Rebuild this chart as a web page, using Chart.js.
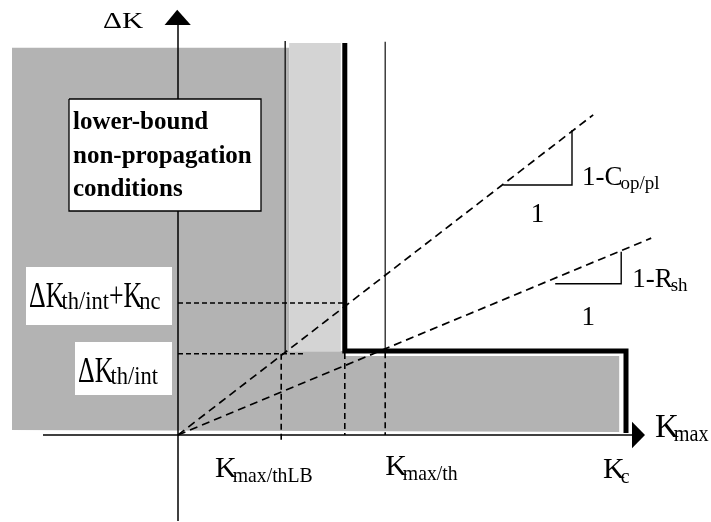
<!DOCTYPE html>
<html>
<head>
<meta charset="utf-8">
<script src="https://cdn.jsdelivr.net/npm/chart.js@4.4.1/dist/chart.umd.min.js"></script>
<style>
  html, body { margin: 0; padding: 0; background: #fff; }
  canvas { display: block; }
</style>
</head>
<body>
<canvas id="c" width="711" height="522"></canvas>
<script>
// ---- threshold values (arbitrary K units) ----
// marks on the K_max axis
const kMaxNames  = ['K_max/thLB', 'K_max/th', 'K_c'];
const kMaxValues = [2.58, 5.18, 11.2];
// marks on the ΔK axis
const deltaKNames  = ['ΔK_th/int', 'ΔK_th/int+K_nc'];
const deltaKValues = [2.03, 3.3];
// intrinsic threshold envelope (thick L): vertical branch K, horizontal level ΔK
const envelopeK = 4.17;
const envelopeDeltaK = 2.1;
// lower-bound non-propagation region
const lowerBoundK = 2.68;
const regionLeftK = -4.15;
const regionTopDeltaK = [9.68, 9.8];   // dark, light
// constant-ratio rays from the origin
const rayNames  = ['1-C_op/pl', '1-R_sh'];
const raySlopes = [0.771, 0.416];
const rayEndK   = [10.38, 11.83];
// slope triangles along the rays
const triBaseK  = [8.13, 9.43];
const triBaseDK = [6.25, 3.78];
const triRun    = [1.72, 1.65];
const triRise   = [1.375, 0.8];

// ---- helpers ----
const P = (x, y) => ({ x, y });
function line(points, opts, order) {
  return Object.assign({
    data: points, showLine: true, pointRadius: 0, borderColor: '#000',
    borderWidth: 1.5, fill: false, tension: 0, order
  }, opts);
}
function shape(points, color, order, border) {
  return {
    data: points, showLine: true, pointRadius: 0, tension: 0, order,
    fill: 'shape', backgroundColor: color,
    borderColor: border ? border.color : 'rgba(0,0,0,0)',
    borderWidth: border ? border.width : 1
  };
}
const rect = (x0, y0, x1, y1) => [P(x0, y0), P(x1, y0), P(x1, y1), P(x0, y1), P(x0, y0)];

const DARK = '#b3b3b3', LIGHT = '#d4d4d4';
const kThLB = kMaxValues[0], kTh = kMaxValues[1], kC = kMaxValues[2];

const datasets = [];
// grey region below the threshold envelope
datasets.push(shape([
  P(regionLeftK, regionTopDeltaK[0]), P(lowerBoundK + 0.1, regionTopDeltaK[0]),
  P(lowerBoundK + 0.1, envelopeDeltaK), P(envelopeK, envelopeDeltaK),
  P(envelopeK, envelopeDeltaK - 0.125), P(kC - 0.17, envelopeDeltaK - 0.125),
  P(kC - 0.17, 0.075), P(regionLeftK, 0.125)
], DARK, 11));
// light band between the lower bound and the envelope
datasets.push(shape(rect(lowerBoundK + 0.1, regionTopDeltaK[1], envelopeK - 0.1, envelopeDeltaK - 0.02), LIGHT, 10));
// white backgrounds of the ΔK labels
datasets.push(shape(rect(-3.8, 4.2, -0.15, 2.75), '#fff', 9));
datasets.push(shape(rect(-2.575, 2.325, -0.15, 1.0), '#fff', 9));
// thin solid boundaries
datasets.push(line([P(lowerBoundK, 9.85), P(lowerBoundK, envelopeDeltaK - 0.03)], { borderColor: '#222' }, 8));
datasets.push(line([P(kTh, 9.83), P(kTh, envelopeDeltaK - 0.03)], { borderColor: '#222', borderWidth: 1.3 }, 8));
// dashed projections
const dashV = { borderDash: [6, 4], borderWidth: 1.6 };
const dashH = { borderDash: [5, 3], borderWidth: 1.6 };
datasets.push(line([P(kThLB, deltaKValues[0]), P(kThLB, -0.15)], dashV, 7));
datasets.push(line([P(envelopeK, envelopeDeltaK - 0.05), P(envelopeK, 0)], dashV, 7));
datasets.push(line([P(kTh, envelopeDeltaK - 0.03), P(kTh, 0)], dashV, 7));
datasets.push(line([P(0, deltaKValues[1]), P(envelopeK, deltaKValues[1])], dashH, 7));
datasets.push(line([P(0, deltaKValues[0]), P(kThLB + 0.57, deltaKValues[0])], dashH, 7));
// rays
raySlopes.forEach((s, i) => {
  datasets.push(line([P(0, 0), P(rayEndK[i], s * rayEndK[i])], { borderDash: [8, 5], borderWidth: 1.7 }, 6));
});
// axes
datasets.push(line([P(-3.375, 0), P(11.4, 0)], { borderWidth: 1.5 }, 5));
datasets.push(line([P(0, -2.15), P(0, 10.3)], { borderWidth: 1.5 }, 5));
// slope triangles
triBaseK.forEach((k, i) => {
  datasets.push(line([P(k, triBaseDK[i]), P(k + triRun[i], triBaseDK[i]), P(k + triRun[i], triBaseDK[i] + triRise[i])],
    { borderWidth: 1.4, borderJoinStyle: 'miter' }, 4));
});
// threshold envelope
datasets.push(line([P(envelopeK, 9.8), P(envelopeK, envelopeDeltaK), P(kC, envelopeDeltaK), P(kC, 0.05)],
  { borderWidth: 5, borderJoinStyle: 'miter', borderCapStyle: 'butt' }, 3));
// arrow heads
datasets.push(shape([P(11.35, 0.33), P(11.675, 0), P(11.35, -0.33), P(11.35, 0.33)], '#000', 2));
datasets.push(shape([P(-0.335, 10.25), P(-0.02, 10.63), P(0.32, 10.25), P(-0.335, 10.25)], '#000', 2));
// text box
datasets.push(shape(rect(-2.725, 8.4, 2.075, 5.6), '#fff', 1, { color: '#000', width: 1.3 }));

// ---- text annotations ----
const SERIF = '"Liberation Serif", "Times New Roman", serif';
function rich(ctx, x, y, parts, o) {
  let cx = x;
  parts.forEach(([t, sub]) => {
    const size = sub ? o.sub : o.size;
    const hs = sub ? (o.subHs || 1) : (o.hs || 1);
    ctx.font = (o.weight || 'normal') + ' ' + size + 'px ' + SERIF;
    if (sub) cx += (o.kern || 0);
    ctx.save();
    ctx.translate(cx, y + (sub ? o.drop : 0));
    ctx.scale(hs, 1);
    ctx.fillText(t, 0, 0);
    ctx.restore();
    cx += ctx.measureText(t).width * hs;
  });
  return cx - x;
}
function splitLabel(name) {
  // "K_max/th" -> [['K', false], ['max/th', true]]; "+" joins pieces
  const out = [];
  name.split('+').forEach((piece, i) => {
    if (i > 0) out.push(['+', false]);
    const [base, sub] = piece.split('_');
    out.push([base, false]);
    if (sub) out.push([sub, true]);
  });
  return out;
}

const textPlugin = {
  id: 'annotations',
  afterDatasetsDraw(chart) {
    const { ctx } = chart;
    const sx = v => chart.scales.x.getPixelForValue(v);
    const sy = v => chart.scales.y.getPixelForValue(v);
    ctx.save();
    ctx.fillStyle = '#000';
    ctx.textBaseline = 'alphabetic';
    ctx.textAlign = 'left';

    // axis titles
    rich(ctx, sx(-1.875), sy(10.175), [['ΔK', false]], { size: 23, hs: 1.28 });
    rich(ctx, sx(11.925), sy(-0.05), splitLabel('K_max'), { size: 33, sub: 23, drop: 4, kern: -5, subHs: 0.88 });

    // ΔK marks
    const dkStyle = { size: 36, hs: 0.72, sub: 25, subHs: 0.9, drop: 2, kern: -3 };
    rich(ctx, sx(-3.725), sy(deltaKValues[1] - 0.1), splitLabel(deltaKNames[1]), dkStyle);
    rich(ctx, sx(-2.5), sy(deltaKValues[0] - 0.7), splitLabel(deltaKNames[0]), dkStyle);

    // K_max marks
    const kStyle = { size: 30, sub: 21, subHs: 0.94, drop: 5, kern: -4 };
    rich(ctx, sx(0.925), sy(-1.05), splitLabel(kMaxNames[0]), kStyle);
    rich(ctx, sx(kTh), sy(-1.0), splitLabel(kMaxNames[1]), kStyle);
    rich(ctx, sx(kC - 0.575), sy(-1.075), splitLabel(kMaxNames[2]), kStyle);

    // slope labels
    const sStyle = { size: 27, sub: 19, drop: 4, kern: -2 };
    rich(ctx, sx(triBaseK[0] + triRun[0] + 0.25), sy(triBaseDK[0]), splitLabel(rayNames[0]), sStyle);
    rich(ctx, sx(triBaseK[1] + triRun[1] + 0.275), sy(triBaseDK[1] - 0.075), splitLabel(rayNames[1]), sStyle);
    ctx.textAlign = 'center';
    ctx.font = '27px ' + SERIF;
    ctx.fillText('1', sx(triBaseK[0] + triRun[0] / 2), sy(triBaseDK[0] - 0.925));
    ctx.fillText('1', sx(triBaseK[1] + triRun[1] / 2), sy(triBaseDK[1] - 1.025));

    // boxed note
    ctx.textAlign = 'left';
    ctx.font = 'bold 25px ' + SERIF;
    ['lower-bound', 'non-propagation', 'conditions'].forEach((t, i) => {
      ctx.fillText(t, sx(-2.625), sy(7.65 - i * 0.84));
    });
    ctx.restore();
  }
};

new Chart(document.getElementById('c'), {
  type: 'scatter',
  data: { datasets },
  options: {
    responsive: false,
    animation: false,
    devicePixelRatio: 1,
    events: [],
    layout: { padding: 0 },
    scales: {
      x: { type: 'linear', display: false, min: -4.45, max: 13.325 },
      y: { type: 'linear', display: false, min: -2.175, max: 10.875 }
    },
    plugins: { legend: { display: false }, tooltip: { enabled: false } }
  },
  plugins: [textPlugin]
});
</script>
</body>
</html>
